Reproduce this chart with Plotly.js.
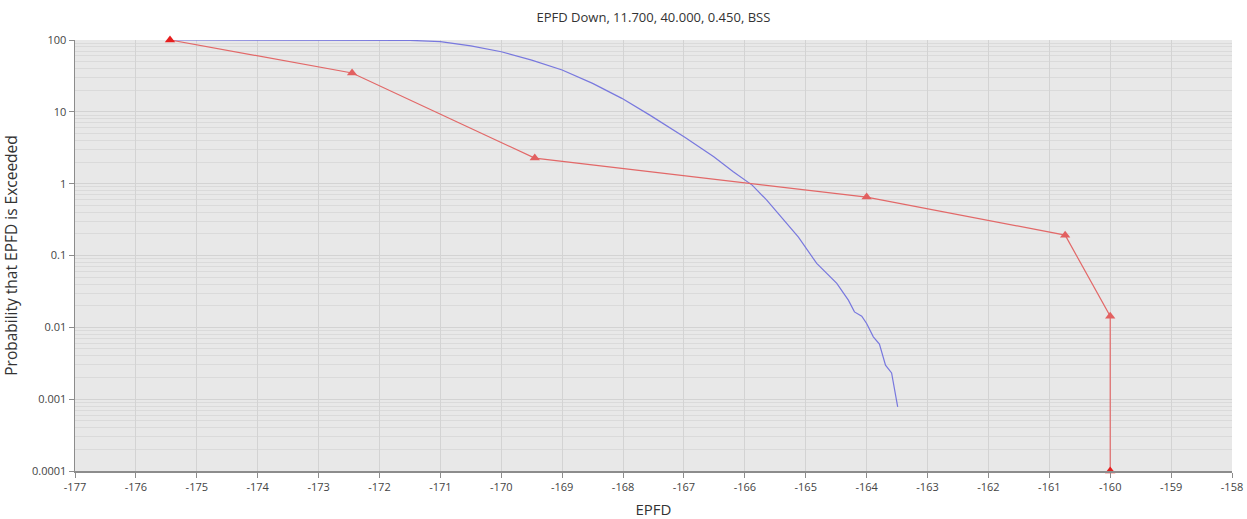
<!DOCTYPE html>
<html>
<head>
<meta charset="utf-8">
<script src="https://cdn.plot.ly/plotly-3.0.1.min.js"></script>
<style>html,body{margin:0;padding:0;background:#fff;}#chart{width:1247px;height:519px;}</style>
</head>
<body>
<div id="chart"></div>
<script>
// Blue curve (EPFD distribution)
const blueX = [-175.44, -172.5, -171.5, -171.0, -170.5, -170.0, -169.5, -169.0, -168.5, -168.02, -167.56, -166.98, -166.51, -166.19, -165.88, -165.64, -165.31, -165.12, -164.82, -164.49, -164.30, -164.20, -164.08, -164.00, -163.89, -163.79, -163.69, -163.59, -163.49];
const blueY = [100, 100, 99, 95, 83, 68.7, 52.5, 38.2, 24.9, 15.4, 9.0, 4.4, 2.37, 1.47, 0.955, 0.59, 0.28, 0.18, 0.0776, 0.0409, 0.0239, 0.0164, 0.0143, 0.0113, 0.00738, 0.00584, 0.00298, 0.00232, 0.00078];

// Red mask (triangle markers)
const redX = [-175.44, -172.45, -169.45, -164.0, -160.74, -160.0, -160.0];
const redY = [100, 34.7, 2.27, 0.65, 0.192, 0.0143, 0.0001];

const xTickVals = [-177, -176, -175, -174, -173, -172, -171, -170, -169, -168, -167, -166, -165, -164, -163, -162, -161, -160, -159, -158];
const xTickText = ["-177", "-176", "-175", "-174", "-173", "-172", "-171", "-170", "-169", "-168", "-167", "-166", "-165", "-164", "-163", "-162", "-161", "-160", "-159", "-158"];
const yTickVals = [0.0001, 0.001, 0.01, 0.1, 1, 10, 100];
const yTickText = ["0.0001", "0.001", "0.01", "0.1", "1", "10", "100"];

const titleText = "EPFD Down, 11.700, 40.000, 0.450, BSS";
const xTitle = "EPFD";
const yTitle = "Probability that EPFD is Exceeded";

const redMarkerColors = redX.map((_, i) => (i === 0 || i === redX.length - 1) ? 'rgb(230,30,30)' : 'rgb(226,96,96)');

const traces = [
  {
    x: blueX, y: blueY, type: 'scatter', mode: 'lines',
    line: {color: 'rgb(120,120,222)', width: 1.2},
    hoverinfo: 'skip'
  },
  {
    x: redX, y: redY, type: 'scatter', mode: 'lines+markers',
    line: {color: 'rgb(226,104,104)', width: 1.2},
    marker: {symbol: 'triangle-up', size: 9, color: redMarkerColors},
    cliponaxis: false,
    hoverinfo: 'skip'
  }
];

const layout = {
  width: 1247, height: 519,
  margin: {l: 75, r: 15, t: 40, b: 48},
  paper_bgcolor: '#ffffff',
  plot_bgcolor: '#e8e8e8',
  showlegend: false,
  font: {family: 'Open Sans, Noto Sans, sans-serif', color: '#333'},
  title: {text: titleText, font: {size: 13, color: '#333'}, x: 0.524, xanchor: 'center', y: 0.967, yanchor: 'middle'},
  xaxis: {
    range: [-177, -158],
    tickvals: xTickVals, ticktext: xTickText,
    showgrid: true, gridcolor: '#d3d3d3', gridwidth: 1,
    zeroline: false,
    showline: true, linecolor: '#8c8c8c', linewidth: 1.5,
    ticks: 'outside', ticklen: 5, tickcolor: '#8c8c8c',
    tickfont: {size: 11, color: '#444'},
    title: {text: xTitle, font: {size: 15, color: '#333'}, standoff: 14}
  },
  yaxis: {
    type: 'log', range: [-4, 2],
    tickvals: yTickVals, ticktext: yTickText,
    showgrid: true, gridcolor: '#d3d3d3', gridwidth: 1,
    minor: {dtick: 'D1', showgrid: true, gridcolor: '#dadada', gridwidth: 1, ticks: ''},
    zeroline: false,
    showline: true, linecolor: '#8c8c8c', linewidth: 1.5,
    ticks: 'outside', ticklen: 5, tickcolor: '#8c8c8c',
    tickfont: {size: 11, color: '#444'},
    title: {text: yTitle, font: {size: 15.5, color: '#333'}, standoff: 16}
  }
};

Plotly.newPlot('chart', traces, layout, {displayModeBar: false, staticPlot: true});
</script>
</body>
</html>
